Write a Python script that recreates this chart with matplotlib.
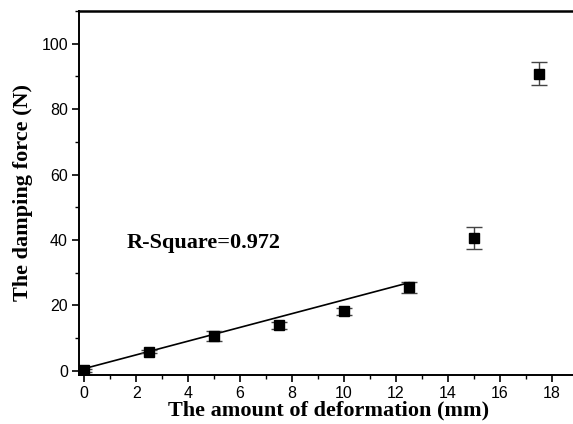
import matplotlib
matplotlib.use("Agg")
import matplotlib.pyplot as plt
import numpy as np
from matplotlib.ticker import MultipleLocator

# Measured damping force vs. deformation
deformation = [0, 2.5, 5, 7.5, 10, 12.5, 15, 17.5]
force = [0.2, 5.9, 10.6, 13.9, 18.2, 25.5, 40.6, 90.8]
force_err = [0.4, 0.5, 1.5, 1.0, 1.0, 1.8, 3.4, 3.5]

# Linear fit over the elastic range
fit_intercept = 0.7
fit_slope = 2.1
fit_range = [0, 12.5]
r_square_text = "R-Square=0.972"

fig = plt.figure(figsize=(5.73, 4.24), dpi=100)
ax = fig.add_axes([0.138, 0.116, 0.87, 0.858])

serif = "Liberation Serif"
sans = "Liberation Sans"

fx = np.array(fit_range)
ax.plot(fx, fit_intercept + fit_slope * fx, color="black", lw=1.2, zorder=2)

ax.errorbar(deformation, force, yerr=force_err, fmt="s", color="black",
            markersize=6.5, ecolor="#444444", elinewidth=1.0, capsize=5.5,
            capthick=1.0, zorder=3)

ax.text(1.65, 39, r_square_text, fontsize=16, fontweight="bold",
        family=serif, va="center", ha="left",
        bbox=dict(facecolor="white", edgecolor="none", pad=4))

ax.set_xlim(-0.2, 19.0)
ax.set_ylim(-1.2, 110)

ax.xaxis.set_major_locator(MultipleLocator(2))
ax.xaxis.set_minor_locator(MultipleLocator(1))
ax.yaxis.set_major_locator(MultipleLocator(20))
ax.yaxis.set_minor_locator(MultipleLocator(10))
ax.set_xticks(np.arange(0, 19, 2))
ax.set_yticks(np.arange(0, 101, 20))

ax.tick_params(which="major", direction="out", length=5, width=1.2,
               labelsize=11.5, pad=3)
ax.tick_params(which="minor", direction="out", length=3, width=1.0)
for lab in ax.get_xticklabels() + ax.get_yticklabels():
    lab.set_family(sans)

ax.spines["right"].set_visible(False)
ax.spines["left"].set_linewidth(1.4)
ax.spines["bottom"].set_linewidth(1.4)
ax.spines["top"].set_linewidth(1.8)

ax.set_xlabel("The amount of deformation (mm)", fontsize=16,
              fontweight="bold", family=serif, labelpad=0)
ax.set_ylabel("The damping force (N)", fontsize=16, fontweight="bold",
              family=serif, labelpad=6)

fig.savefig("out.png", dpi=100)
